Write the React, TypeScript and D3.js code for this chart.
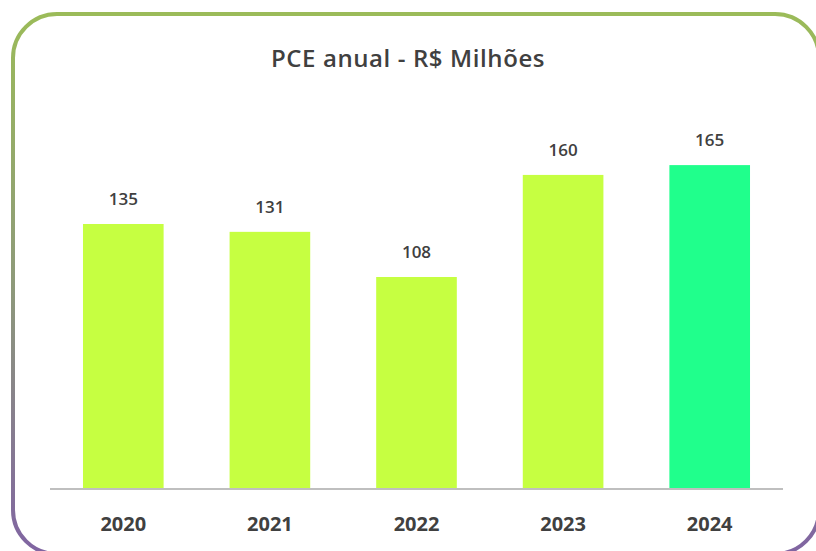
import React from "react";
import * as d3 from "d3";

const years = ["2020", "2021", "2022", "2023", "2024"];
const values = [135, 131, 108, 160, 165];
const barColors = ["#C6FF41", "#C6FF41", "#C6FF41", "#C6FF41", "#20FF8C"];
const title = "PCE anual - R$ Milhões";

export default function App() {
  const W = 816, H = 551;
  const x = d3.scaleBand<string>().domain(years).range([50, 783]).paddingInner(0.45).paddingOuter(0.225);
  const y = d3.scaleLinear().domain([0, 180]).range([489, 489 - 180 * 1.963]);
  const font = "'Open Sans', 'Noto Sans', sans-serif";
  return (
    <svg width={W} height={H} style={{ position: "absolute", left: 0, top: 0 }}>
      <defs>
        <linearGradient id="bord" x1="0" y1="0" x2="0" y2="1">
          <stop offset="0" stopColor="#9BBB59" />
          <stop offset="0.5" stopColor="#8E9A7A" />
          <stop offset="1" stopColor="#8064A2" />
        </linearGradient>
      </defs>
      <rect x={0} y={0} width={W} height={H} fill="#fff" />
      <rect x={13} y={14} width={806} height={540} rx={44} ry={44} fill="#fff" stroke="url(#bord)" strokeWidth={4} />
      <text x={408} y={67} textAnchor="middle" fontFamily={font} fontWeight={600} fontSize={24} letterSpacing={0.6} fill="#404040">{title}</text>
      {years.map((yr, i) => (
        <g key={yr}>
          <rect x={x(yr)} y={y(values[i])} width={x.bandwidth()} height={y(0) - y(values[i])} fill={barColors[i]} />
          <text x={(x(yr) as number) + x.bandwidth() / 2} y={y(values[i]) - 19} textAnchor="middle" fontFamily={font} fontWeight={600} fontSize={17} fill="#404040">{values[i]}</text>
          <text x={(x(yr) as number) + x.bandwidth() / 2} y={531} textAnchor="middle" fontFamily={font} fontWeight={700} fontSize={20} fill="#404040">{yr}</text>
        </g>
      ))}
      <line x1={50} x2={783} y1={489} y2={489} stroke="#BFBFBF" strokeWidth={2} />
    </svg>
  );
}
